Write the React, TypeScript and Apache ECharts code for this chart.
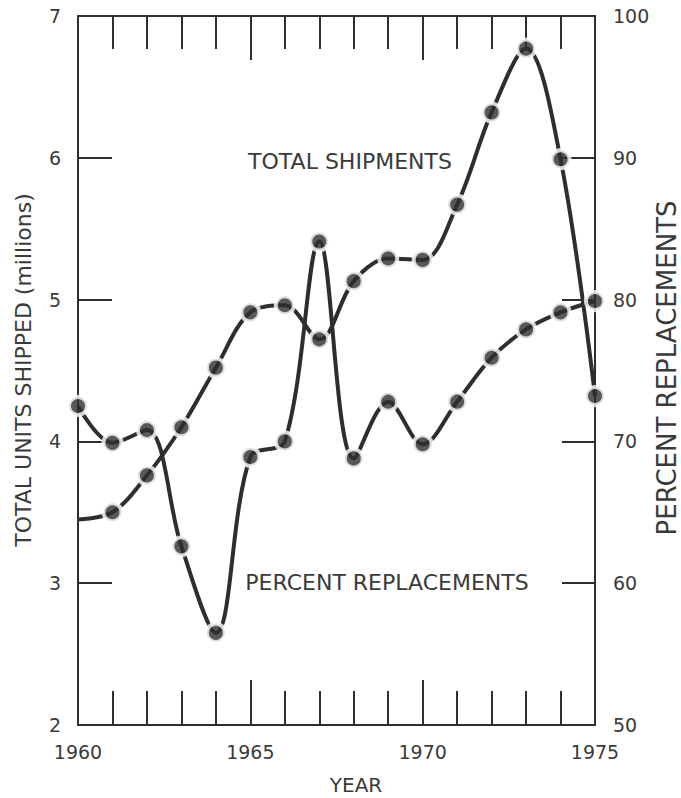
import React, { useEffect, useRef } from "react";
import * as echarts from "echarts";

const years = [1960, 1961, 1962, 1963, 1964, 1965, 1966, 1967, 1968, 1969, 1970, 1971, 1972, 1973, 1974, 1975];
const totalShipments = [3.45, 3.5, 3.76, 4.1, 4.52, 4.91, 4.96, 4.72, 5.13, 5.29, 5.28, 5.67, 6.32, 6.77, 5.99, 4.32];
const percentReplacements = [72.5, 69.9, 70.8, 62.6, 56.5, 68.9, 70.0, 84.1, 68.8, 72.8, 69.8, 72.8, 75.9, 77.9, 79.1, 79.9];

const leftTitle = "TOTAL UNITS SHIPPED (millions)";
const rightTitle = "PERCENT REPLACEMENTS";
const xTitle = "YEAR";
const shipLabel = "TOTAL SHIPMENTS";
const replLabel = "PERCENT REPLACEMENTS";

const INK = "#2e2e2e";
const TXT = "#3a3a3a";
const FONT = "DejaVu Sans";

export default function App() {
  const ref = useRef<HTMLDivElement>(null);
  useEffect(() => {
    if (!ref.current) return;
    const chart = echarts.init(ref.current, null, { renderer: "svg" });
    const lineStyle = { width: 4, color: INK };
    const markStyle = { color: INK, borderColor: "#ffffff", borderWidth: 4 };
    const axisLabel = { color: TXT, fontFamily: FONT, fontSize: 19 };
    const centered = { align: "center", verticalAlign: "middle", textAlign: "center", textVerticalAlign: "middle" };
    chart.setOption({
      animation: false,
      backgroundColor: "#ffffff",
      grid: { left: 78, right: 86, top: 16, bottom: 73 },
      xAxis: [
        {
          type: "value",
          position: "bottom",
          min: 1960,
          max: 1975,
          interval: 5,
          axisLine: { show: true, lineStyle: { color: INK, width: 2 } },
          axisTick: { show: true, inside: true, length: 45, lineStyle: { color: INK, width: 2 } },
          minorTick: { show: true, splitNumber: 5, length: 34, lineStyle: { color: INK, width: 2 } },
          splitLine: { show: false },
          axisLabel: { ...axisLabel, margin: 17, formatter: (v: number) => String(v) },
        },
        {
          type: "value",
          position: "top",
          min: 1960,
          max: 1975,
          interval: 5,
          axisLine: { show: true, lineStyle: { color: INK, width: 2 } },
          axisTick: { show: true, inside: true, length: 44, lineStyle: { color: INK, width: 2 } },
          minorTick: { show: true, splitNumber: 5, length: 33, lineStyle: { color: INK, width: 2 } },
          splitLine: { show: false },
          axisLabel: { show: false },
        },
      ],
      yAxis: [
        {
          type: "value",
          position: "left",
          min: 2,
          max: 7,
          interval: 1,
          axisLine: { show: true, lineStyle: { color: INK, width: 2 } },
          axisTick: { show: true, inside: true, length: 34, lineStyle: { color: INK, width: 2 } },
          splitLine: { show: false },
          axisLabel: { ...axisLabel, margin: 17 },
        },
        {
          type: "value",
          position: "right",
          min: 50,
          max: 100,
          interval: 10,
          axisLine: { show: true, lineStyle: { color: INK, width: 2 } },
          axisTick: { show: true, inside: true, length: 33, lineStyle: { color: INK, width: 2 } },
          splitLine: { show: false },
          axisLabel: { ...axisLabel, margin: 18 },
        },
      ],
      series: [
        {
          name: "Total shipments",
          type: "line",
          xAxisIndex: 0,
          yAxisIndex: 0,
          data: years.map((y, i) => [y, totalShipments[i]]),
          smooth: 0.35,
          showSymbol: false,
          clip: false,
          lineStyle,
          z: 2,
        },
        {
          name: "Percent replacements",
          type: "line",
          xAxisIndex: 0,
          yAxisIndex: 1,
          data: years.map((y, i) => [y, percentReplacements[i]]),
          smooth: 0.35,
          showSymbol: false,
          clip: false,
          lineStyle,
          z: 2,
        },
        {
          type: "scatter",
          xAxisIndex: 0,
          yAxisIndex: 0,
          data: years.slice(1).map((y, i) => [y, totalShipments[i + 1]]),
          symbol: "circle",
          symbolSize: 18,
          itemStyle: markStyle,
          clip: false,
          z: 3,
        },
        {
          type: "scatter",
          xAxisIndex: 0,
          yAxisIndex: 1,
          data: years.map((y, i) => [y, percentReplacements[i]]),
          symbol: "circle",
          symbolSize: 18,
          itemStyle: markStyle,
          clip: false,
          z: 3,
        },
      ],
      graphic: [
        {
          type: "text",
          x: 350,
          y: 161,
          z: 10,
          style: { text: shipLabel, fill: TXT, fontSize: 22, fontFamily: FONT, ...centered },
        },
        {
          type: "text",
          x: 387,
          y: 582,
          z: 10,
          style: { text: replLabel, fill: TXT, fontSize: 22, fontFamily: FONT, ...centered },
        },
        {
          type: "text",
          x: 356,
          y: 785,
          z: 10,
          style: { text: xTitle, fill: TXT, fontSize: 20, fontFamily: FONT, ...centered },
        },
        {
          type: "text",
          x: 23,
          y: 370,
          rotation: Math.PI / 2,
          z: 10,
          style: { text: leftTitle, fill: TXT, fontSize: 22, fontFamily: FONT, ...centered },
        },
        {
          type: "text",
          x: 667,
          y: 368,
          rotation: Math.PI / 2,
          z: 10,
          style: { text: rightTitle, fill: TXT, fontSize: 26, fontFamily: FONT, ...centered },
        },
      ],
    });
    return () => chart.dispose();
  }, []);
  return (
    <div
      ref={ref}
      style={{ position: "fixed", left: 0, top: 0, width: 681, height: 798, background: "#fff" }}
    />
  );
}
